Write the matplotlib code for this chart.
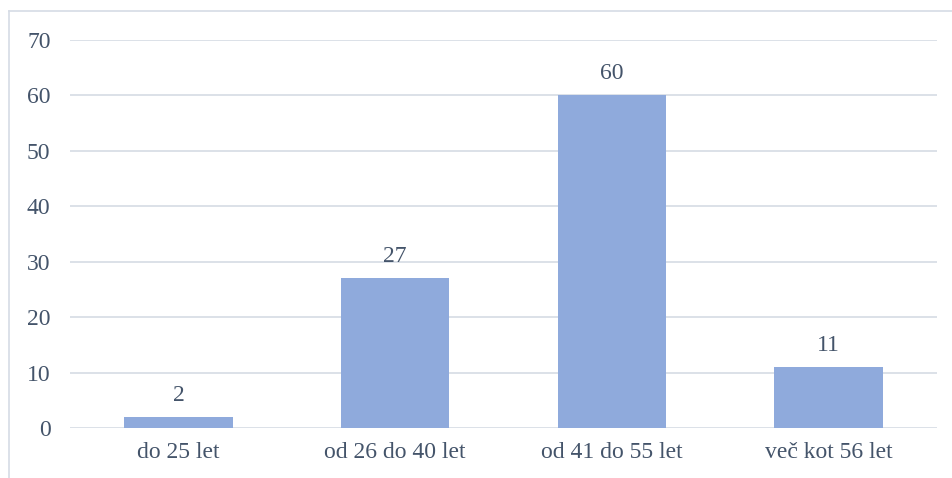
import matplotlib
matplotlib.use('Agg')
import matplotlib.pyplot as plt
from matplotlib.lines import Line2D

categories = ['do 25 let', 'od 26 do 40 let', 'od 41 do 55 let', 'več kot 56 let']
values = [2, 27, 60, 11]
y_ticks = [0, 10, 20, 30, 40, 50, 60, 70]

text_color = '#44546A'
bar_color = '#8FAADC'
grid_color = '#D9DEE6'

plt.rcParams['font.family'] = ['Liberation Serif', 'DejaVu Serif']

fig = plt.figure(figsize=(9.52, 4.78), dpi=100)
ax = fig.add_axes([70 / 952, 1 - 428 / 478, 867 / 952, 388 / 478])

x = range(len(categories))
bars = ax.bar(x, values, width=0.5, color=bar_color, zorder=3)

for bar, v in zip(bars, values):
    ax.annotate(str(v), (bar.get_x() + bar.get_width() / 2, bar.get_height()),
                xytext=(0, 8), textcoords='offset points',
                ha='center', va='bottom', fontsize=17, color=text_color)

ax.set_xlim(-0.5, len(categories) - 0.5)
ax.set_ylim(0, 70)
ax.set_yticks(y_ticks)
ax.set_xticks(list(x))
ax.set_xticklabels(categories)
ax.tick_params(axis='both', length=0, labelsize=17, labelcolor=text_color)
ax.tick_params(axis='y', pad=14)
ax.tick_params(axis='x', pad=10)
ax.yaxis.grid(True, color=grid_color, linewidth=1.3, zorder=0)
for s in ax.spines.values():
    s.set_visible(False)

# chart area border (left and top visible)
fig.add_artist(Line2D([9 / 952, 9 / 952], [0, 1 - 11 / 478], color='#D6DCE5', linewidth=1.2))
fig.add_artist(Line2D([9 / 952, 1], [1 - 11 / 478, 1 - 11 / 478], color='#D6DCE5', linewidth=1.2))

fig.savefig('out.png', dpi=100)
